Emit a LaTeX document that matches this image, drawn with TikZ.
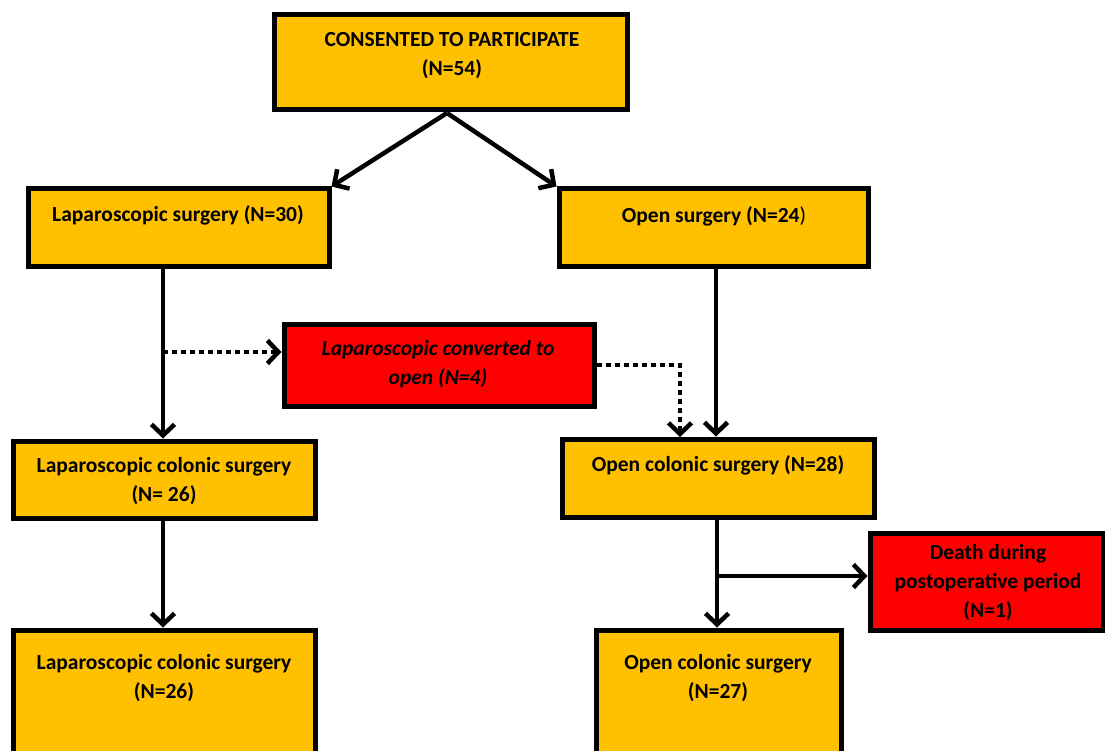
\documentclass[tikz,border=0pt]{standalone}
\usepackage{fontspec}
\setmainfont{Carlito}
\usepackage{xcolor}
\usetikzlibrary{arrows.meta}
\definecolor{boxgold}{HTML}{FFC000}
\definecolor{boxred}{HTML}{FF0000}

\begin{document}
\begin{tikzpicture}[x=1pt,y=-1pt,
  box/.style={draw=black,line width=5pt,rectangle,inner sep=0pt},
  goldbox/.style={box,fill=boxgold},
  redbox/.style={box,fill=boxred},
  txt/.style={align=center,inner sep=0pt,font=\fontsize{21.5}{29}\selectfont\bfseries},
  flow/.style={line width=4.5pt,-{Straight Barb[length=11pt,width=23pt]}},
  dotflow/.style={flow,dash pattern=on 5pt off 4pt}]
  \useasboundingbox (0,0) rectangle (1105,751);
  \clip (0,0) rectangle (1105,751);

  \node[goldbox,minimum width=353,minimum height=95] (consent) at (450.5,62.5) {};
  \node[goldbox,minimum width=301,minimum height=78] (lap)     at (178.5,228)  {};
  \node[goldbox,minimum width=309,minimum height=78] (open)    at (713.5,228)  {};
  \node[redbox, minimum width=310,minimum height=82] (conv)    at (439,365)    {};
  \node[goldbox,minimum width=302,minimum height=77] (lapcol)  at (164,479.5)  {};
  \node[goldbox,minimum width=312,minimum height=78] (opencol) at (718,478)    {};
  \node[redbox, minimum width=233,minimum height=97] (death)   at (986.5,581.5) {};
  \node[goldbox,minimum width=302,minimum height=170] (lapfin) at (164,715)    {};
  \node[goldbox,minimum width=245,minimum height=170] (openfin) at (718.5,715) {};

  \node[txt] (consenttxt) at (452,55.5)  {CONSENTED TO PARTICIPATE\\(N=54)};
  \node[txt] (laptxt)     at (178,215)   {Laparoscopic surgery (N=30)};
  \node[txt] (opentxt)    at (714,216)   {Open surgery (N=24\textmd{)}};
  \node[txt] (convtxt)    at (438,364.5) {\itshape Laparoscopic converted to\\\itshape open (N=4)};
  \node[txt] (lapcoltxt)  at (164,481.5) {Laparoscopic colonic surgery\\(N= 26)};
  \node[txt] (opencoltxt) at (718,465)   {Open colonic surgery (N=28)};
  \node[txt] (deathtxt)   at (988,582.5) {Death during\\postoperative period\\(N=1)};
  \node[txt] (lapfintxt)  at (164,678)   {Laparoscopic colonic surgery\\(N=26)};
  \node[txt] (openfintxt) at (718,678)   {Open colonic surgery\\(N=27)};

  \coordinate (split) at (447,113);
  \coordinate (lapdot) at (163,352);
  \coordinate (convdrop) at (680,437);
  \coordinate (branch) at (717,576);

  \draw[flow] (split) -- (lap.north east);
  \draw[flow] (split) -- (open.north west);
  \draw[flow] (lapdot |- lap.south) -- (lapdot |- lapcol.north);
  \draw[dotflow] (lapdot) -- (lapdot -| conv.west);
  \draw[dotflow] (conv.east) -| (convdrop);
  \draw[flow] ([xshift=2.5pt]open.south) -- ([xshift=2.5pt]open.south |- opencol.north);
  \draw[flow] (lapdot |- lapcol.south) -- (lapdot |- lapfin.north);
  \draw[flow] (branch |- opencol.south) -- (branch |- openfin.north);
  \draw[flow] (branch) -- (branch -| death.west);
\end{tikzpicture}
\end{document}
